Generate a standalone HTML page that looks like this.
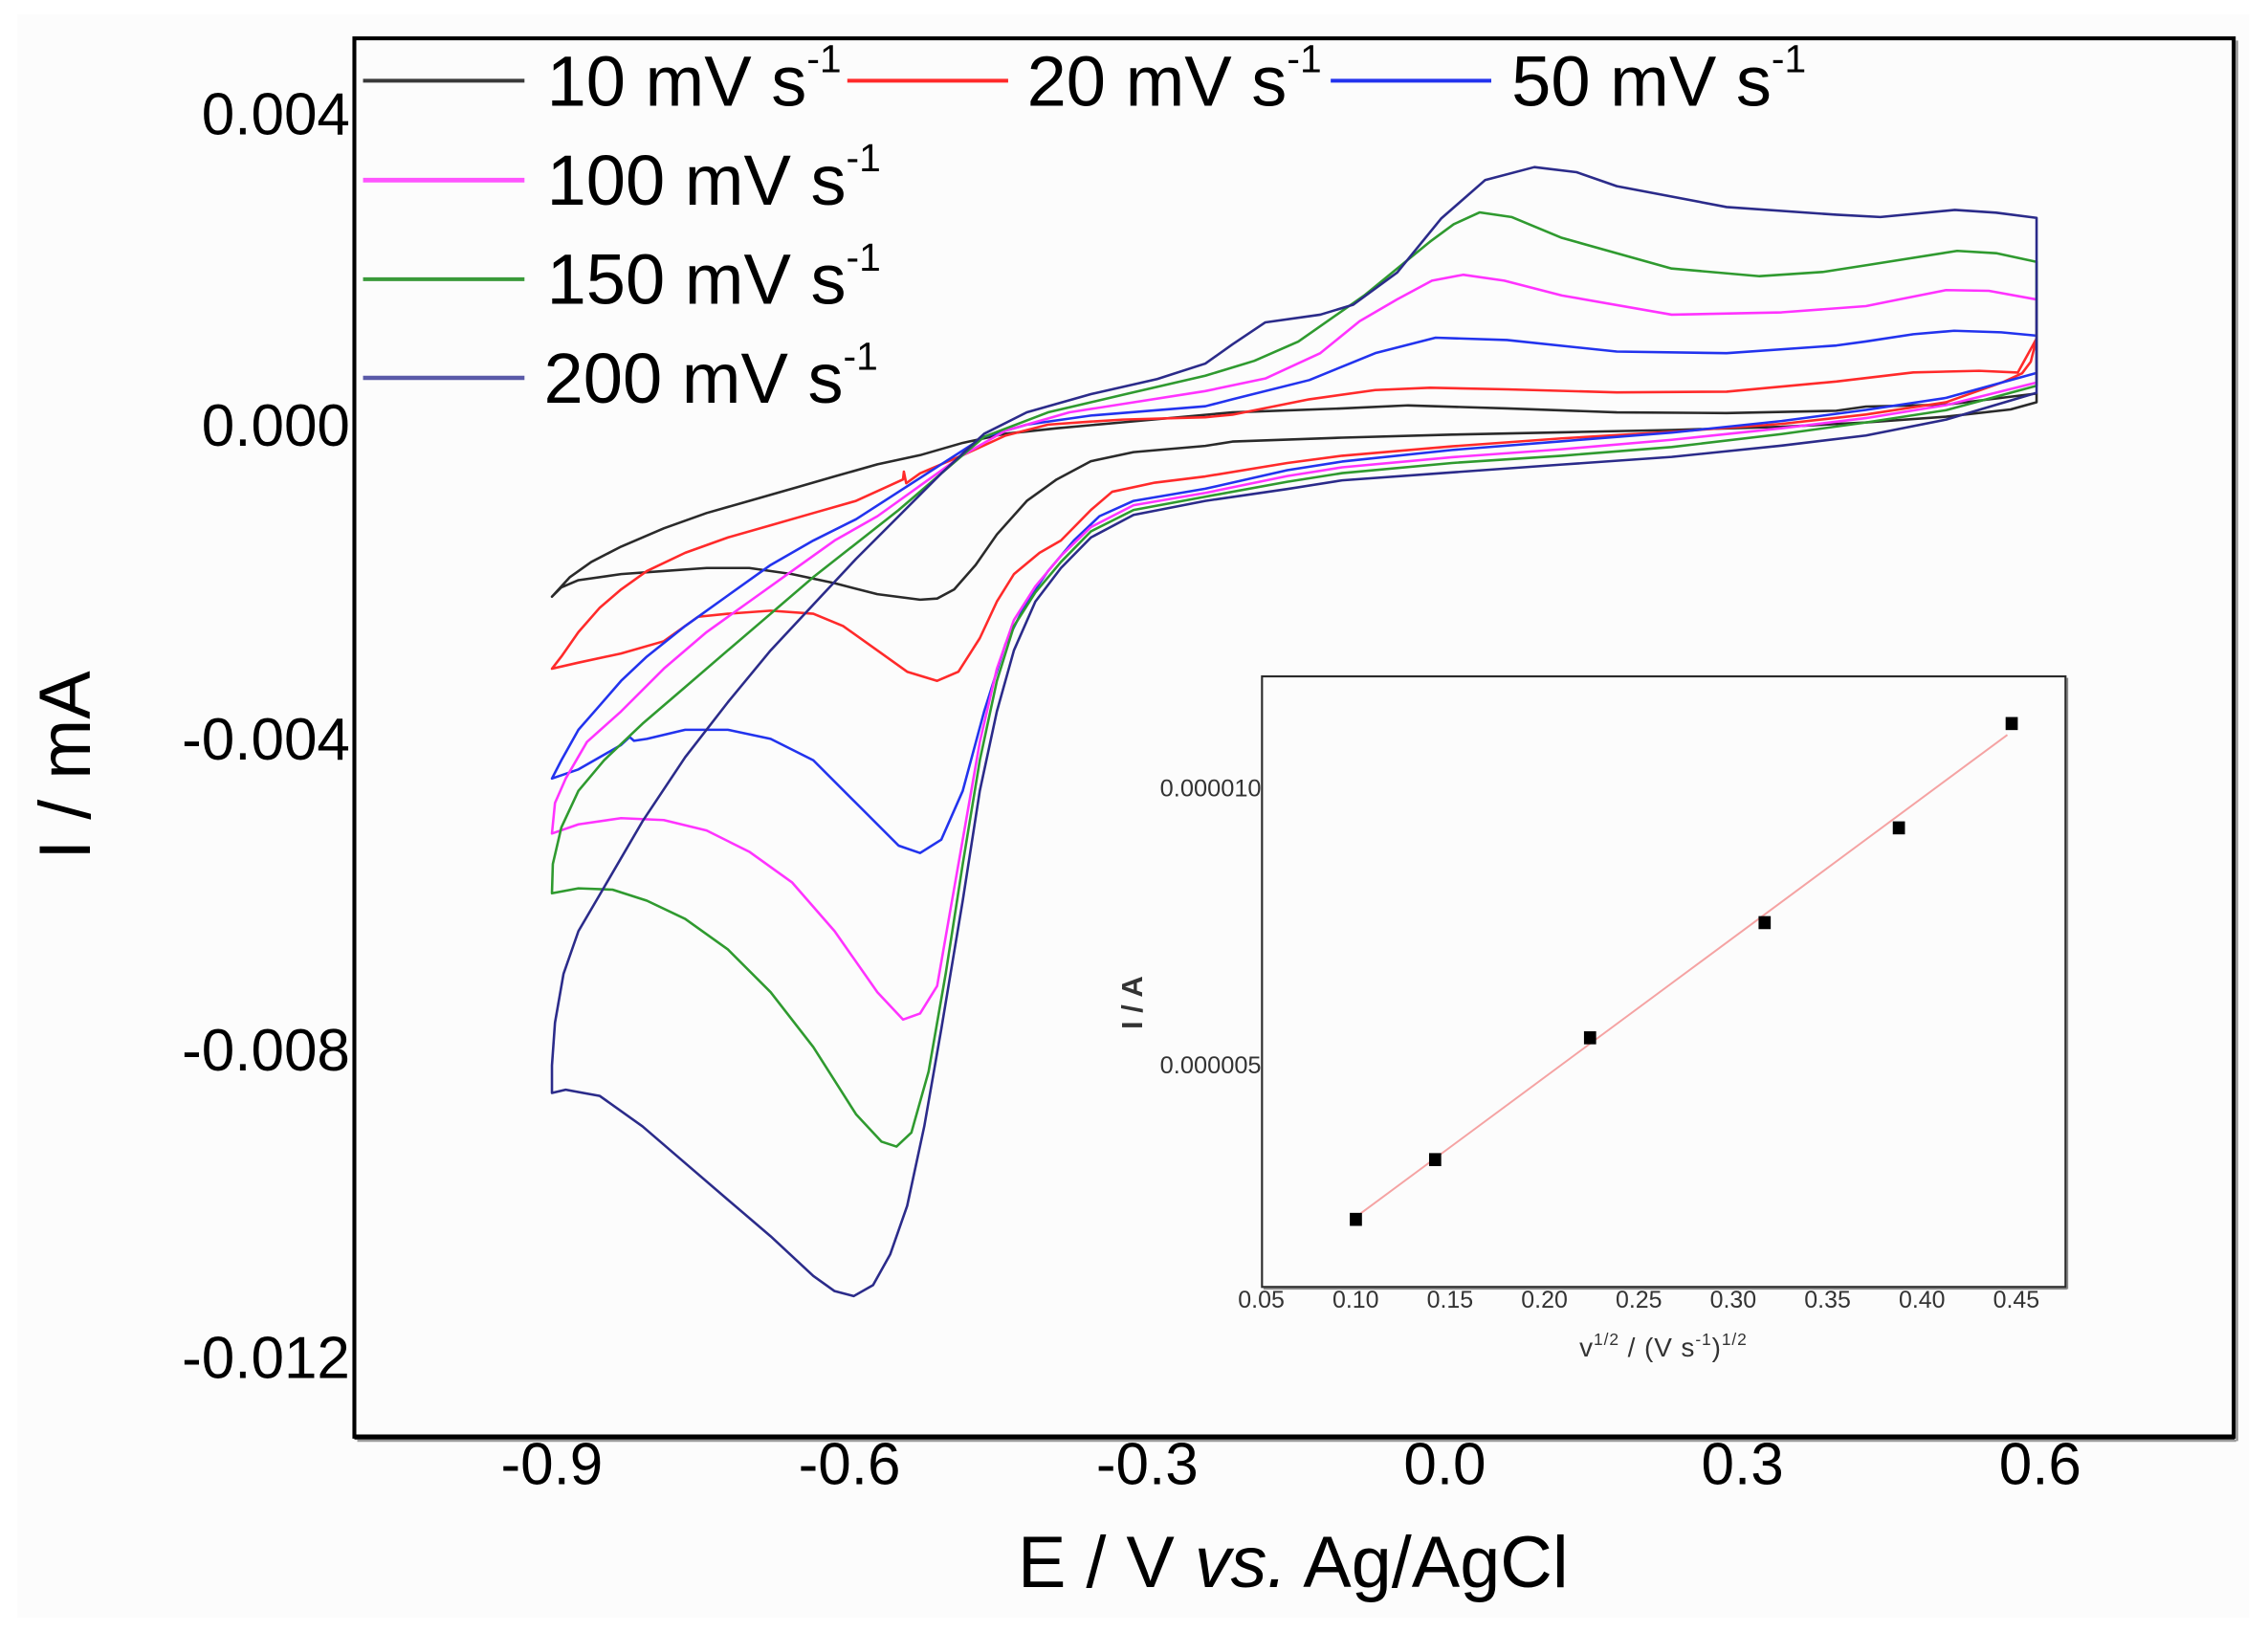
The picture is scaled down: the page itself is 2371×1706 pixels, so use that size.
<!DOCTYPE html>
<html>
<head>
<meta charset="utf-8">
<style>
html,body{margin:0;padding:0;background:#ffffff;}
svg{display:block;}
</style>
</head>
<body>
<svg width="2371" height="1706" viewBox="0 0 1568 1128" preserveAspectRatio="none" xmlns="http://www.w3.org/2000/svg" font-family="'Liberation Sans', Arial, sans-serif">
<rect x="0" y="0" width="1568" height="1128" fill="#ffffff"/>
<rect x="12" y="10" width="1543" height="1108" fill="#fcfcfc"/>

<!-- main frame -->
<line x1="247" y1="995.8" x2="1546" y2="995.8" stroke="#9a9a9a" stroke-width="1.6"/>
<line x1="1546.6" y1="28" x2="1546.6" y2="996" stroke="#9a9a9a" stroke-width="1.6"/>
<rect x="245" y="26.5" width="1299.3" height="966.5" fill="none" stroke="#000" stroke-width="2.7"/>
<line x1="245" y1="993.2" x2="1545" y2="993.2" stroke="#000" stroke-width="3.4"/>

<!-- y tick labels -->
<g font-size="41" fill="#000" text-anchor="end">
<text x="242" y="93">0.004</text>
<text x="242" y="308">0.000</text>
<text x="242" y="525">-0.004</text>
<text x="242" y="740">-0.008</text>
<text x="242" y="952.5">-0.012</text>
</g>
<!-- x tick labels -->
<g font-size="41" fill="#000" text-anchor="middle">
<text x="381.5" y="1026">-0.9</text>
<text x="587.3" y="1026">-0.6</text>
<text x="793.1" y="1026">-0.3</text>
<text x="998.9" y="1026">0.0</text>
<text x="1204.7" y="1026">0.3</text>
<text x="1410.5" y="1026">0.6</text>
</g>

<!-- axis titles -->
<text x="894" y="1097" text-anchor="middle" font-size="50" fill="#000">E / V <tspan font-style="italic">vs.</tspan> Ag/AgCl</text>
<text transform="translate(62,529) rotate(-90)" text-anchor="middle" font-size="50" fill="#000">I / mA</text>

<!-- legend -->
<g stroke-width="2.6">
<line x1="251" y1="55.8" x2="362.6" y2="55.8" stroke="#3a3a3a"/>
<line x1="585.8" y1="55.8" x2="697" y2="55.8" stroke="#ff2a2a"/>
<line x1="920" y1="55.8" x2="1031" y2="55.8" stroke="#2233ee"/>
<line x1="251" y1="124.5" x2="362.6" y2="124.5" stroke="#ff55ff" stroke-width="3.2"/>
<line x1="251" y1="193" x2="362.6" y2="193" stroke="#3a9a3a"/>
<line x1="251" y1="261.2" x2="362.6" y2="261.2" stroke="#5a5aa8" stroke-width="3"/>
</g>
<g font-size="49" fill="#000">
<text x="378" y="73">10 mV s<tspan font-size="27" dy="-23">-1</tspan></text>
<text x="710" y="73">20 mV s<tspan font-size="27" dy="-23">-1</tspan></text>
<text x="1045" y="73">50 mV s<tspan font-size="27" dy="-23">-1</tspan></text>
<text x="378" y="141.5">100 mV s<tspan font-size="27" dy="-23">-1</tspan></text>
<text x="378" y="210">150 mV s<tspan font-size="27" dy="-23">-1</tspan></text>
<text x="376" y="278.5">200 mV s<tspan font-size="27" dy="-23">-1</tspan></text>
</g>

<!-- CV curves -->
<g fill="none" stroke-width="1.7" stroke-linejoin="round" stroke-linecap="round">
<!-- 10 mV/s black -->
<polygon stroke="#2a2a2a" points="381.6,412.4 394.0,398.9 408.8,388.4 429.4,377.8 458.9,365.2 488.5,354.6 518.0,346.2 547.5,337.8 577.0,329.3 606.6,320.9 636.1,314.6 665.6,306.1 695.1,299.8 730.6,296 776.1,291.9 852.1,285.0 927.9,282.3 973.5,280.2 1041.9,282.3 1117.8,285.0 1193.7,285.5 1269.6,283.9 1290,281 1345.5,279.7 1408,272 1408,278 1390,283 1345.5,288 1290,292 1231.7,295 1155.7,297.2 1079.8,298.8 1003.9,300.4 927.9,302.5 852.1,305.2 833.3,308.2 783.7,312.5 754.2,318.8 730.5,331.4 709.9,346.2 689.2,369.4 674.5,390.5 659.7,407.4 647.9,413.7 636.1,414.5 606.6,410.7 577.0,403.1 547.5,396.8 518.0,392.6 488.5,392.6 458.9,394.7 429.4,396.8 399.9,401.0 388,406"/>
<!-- 20 mV/s red -->
<polygon stroke="#ff2a2a" points="381.6,462.2 388.1,453.8 399.9,436.9 414.7,420.0 429.4,407.4 447.2,394.7 473.7,382.1 503.2,371.5 532.8,363.1 562.3,354.6 591.8,346.2 624.3,331.4 624.9,326 626.5,334 636.1,327.2 665.6,314.6 695.1,301.1 724.6,293.5 754.2,291.4 776.1,290 833.3,288.4 852.1,286.6 905.2,276.0 950.8,269.6 988.7,268.0 1041.9,269.1 1117.8,271.2 1193.7,270.7 1269.6,263.7 1322.8,257.4 1368.3,256.3 1395,257.5 1408,234 1404,250 1398,258 1385,264 1345.5,278 1290,286.5 1231.7,293 1155.7,298.5 1079.8,303 1003.9,308.5 927.9,315 890,320 833.3,329.3 798.4,333.6 768.9,339.9 754.2,352.5 733.5,373.6 718.7,382.1 701.0,396.8 689.2,415.8 677.4,441.1 662.6,464.3 647.9,470.6 627.2,464.3 606.6,449.6 582.9,432.7 562.3,424.2 532.8,422.1 503.2,424.2 482.6,426.3 458.9,443.2 429.4,451.7 399.9,458.0"/>
<!-- 50 mV/s blue -->
<polygon stroke="#2233ee" points="381.6,538.1 388.1,525.5 399.9,504.4 414.7,487.5 429.4,470.6 447.2,453.8 473.7,432.7 503.2,411.6 532.8,390.5 562.3,373.6 591.8,358.9 621.3,339.9 650.8,320.9 680.4,301.9 709.9,293.5 754.2,287.2 833.3,280.8 852.1,276.0 905.2,262.7 950.8,244.1 992.5,233.4 1041.9,235.0 1117.8,243.0 1193.7,244.1 1269.6,238.8 1290,236 1322.8,231 1351,228.6 1383.5,229.7 1408,232 1408,257.8 1345.5,275 1290,283.3 1231.7,291 1155.7,299 1079.8,305 1003.9,311 927.9,319 890,325 833.3,337.8 783.7,346.2 760.1,356.8 742.4,373.6 724.6,394.7 709.9,415.8 695.1,445.3 680.4,491.7 665.6,546.6 650.8,580.3 636.1,589.6 621.3,584.5 591.8,555.0 562.3,525.5 532.8,510.7 503.2,504.4 473.7,504.4 447.2,510.7 438.3,512.0 435.3,509.4 429.4,514.9 399.9,531.8"/>
<!-- 100 mV/s magenta -->
<polygon stroke="#ff33ff" points="381.6,576.1 383.7,555.0 391.1,538.1 405.8,512.8 429.4,491.7 458.9,462.2 488.5,436.9 518.0,415.8 547.5,394.7 577.0,373.6 606.6,356.8 636.1,335.7 665.6,314.6 695.1,297.7 739.4,285.0 833.3,270.3 874.8,261.6 912.8,244.1 940,222 966.0,206.9 990,194 1011.5,189.9 1040,194 1079.8,204.2 1155.7,217.5 1231.7,215.9 1290,211.6 1307.6,208 1345.5,200.5 1375,201 1408,207 1408,264.4 1345.5,280 1290,289 1231.7,296 1155.7,304 1079.8,310.5 1003.9,316 927.9,323 890,329 833.3,340.7 783.7,349.2 754.2,364.3 733.5,384.2 715.8,405.3 701.0,428.5 689.2,462.2 677.4,512.8 665.6,580.3 656.7,630.9 647.9,681.5 636.1,700.5 624.3,704.7 606.6,685.8 577.0,643.6 547.5,609.8 518.0,588.7 488.5,574.0 458.9,566.8 429.4,565.5 399.9,569.8"/>
<!-- 150 mV/s green -->
<polygon stroke="#2f9a2f" points="381.6,617.4 382.2,597.2 388.1,571.9 399.9,546.6 417.6,525.5 444.2,500.2 473.7,474.9 503.2,449.5 532.8,424.2 562.3,398.9 591.8,375.7 621.3,352.5 650.8,327.2 680.4,301.9 724.6,285.0 780,272 833.3,259.7 867.2,249.4 897.6,236.1 943.2,204.2 988.7,167.0 1005,155 1022.9,146.8 1045,150 1079.8,164.4 1155.7,185.6 1216.5,190.9 1260,188 1292.4,183.0 1353.1,173.4 1380,175 1408,181 1408,266.6 1345.5,283.5 1290,292 1231.7,300 1155.7,309 1079.8,315 1003.9,320 927.9,327 890,333 833.3,343.3 783.7,352.5 754.2,367.3 733.5,388.4 715.8,409.5 701.0,432.7 689.2,470.6 677.4,525.5 665.6,597.2 653.8,673.1 642.0,740.6 630.1,782.8 619.8,792.5 609.5,789.1 591.8,770.1 562.3,723.7 532.8,685.8 503.2,656.2 473.7,635.1 447.2,622.5 423.5,614.9 399.9,614.0"/>
<!-- 200 mV/s navy -->
<polygon stroke="#2b2b8a" points="381.6,755.4 381.6,736.4 383.7,706.8 389.6,673.1 399.9,643.6 414.7,618.3 444.2,567.7 473.7,523.4 503.2,485.4 532.8,449.5 562.3,417.9 591.8,386.3 621.3,356.8 650.8,327.2 680.4,299.8 709.9,285.0 754.2,272.4 800,262 833.3,251.3 852.1,238 874.8,222.8 912.8,217.5 935.6,210.6 966.0,188.3 996.3,151.1 1026.7,124.5 1060.8,115.5 1090,119 1117.8,128.7 1193.7,143.1 1269.6,148.4 1300,150 1351.5,145.1 1380,147 1408,150.6 1408,271.5 1345.5,290 1290,301 1231.7,308 1155.7,315.8 1079.8,321.1 1003.9,326.5 927.9,332 890,338 833.3,346.2 783.7,355.9 754.2,371.5 733.5,392.6 715.8,415.8 701.0,449.5 689.2,491.7 677.4,546.6 665.6,622.5 650.8,711.1 639.0,778.5 627.2,833.4 615.4,867.1 603.6,888.2 590.3,895.8 577.0,892.4 562.3,881.9 532.8,854.5 503.2,829.2 473.7,803.9 444.2,778.5 414.7,757.5 391.1,753.2"/>
</g>

<!-- inset -->
<line x1="873.5" y1="890.8" x2="1429" y2="890.8" stroke="#8a8a8a" stroke-width="1.2"/>
<line x1="1429.3" y1="468.5" x2="1429.3" y2="891" stroke="#8a8a8a" stroke-width="1.2"/>
<rect x="872.5" y="467.5" width="555.5" height="422" fill="none" stroke="#2a2a2a" stroke-width="1.4"/>
<line x1="940.7" y1="838.7" x2="1387.8" y2="507.9" stroke="#f5a3a3" stroke-width="1.3"/>
<g fill="#000">
<rect x="933.2" y="838.3" width="8.4" height="9"/>
<rect x="988" y="797" width="8.4" height="9"/>
<rect x="1095.1" y="712.8" width="8.4" height="9"/>
<rect x="1215.8" y="633.2" width="8.4" height="9"/>
<rect x="1308.6" y="567.7" width="8.4" height="9"/>
<rect x="1386.6" y="495.6" width="8.4" height="9"/>
</g>
<g font-size="16.5" fill="#333" text-anchor="middle">
<text x="872" y="904">0.05</text>
<text x="937.25" y="904">0.10</text>
<text x="1002.5" y="904">0.15</text>
<text x="1067.75" y="904">0.20</text>
<text x="1133" y="904">0.25</text>
<text x="1198.25" y="904">0.30</text>
<text x="1263.5" y="904">0.35</text>
<text x="1328.75" y="904">0.40</text>
<text x="1394" y="904">0.45</text>
</g>
<g font-size="16.8" fill="#333" text-anchor="end">
<text x="872" y="550.5">0.000010</text>
<text x="872" y="742">0.000005</text>
</g>
<text x="1150" y="937.5" text-anchor="middle" font-size="18.5" fill="#333" letter-spacing="0.6">v<tspan font-size="11.5" dy="-8">1/2</tspan><tspan dy="8"> / (V s</tspan><tspan font-size="11.5" dy="-8">-1</tspan><tspan dy="8">)</tspan><tspan font-size="11.5" dy="-8">1/2</tspan></text>
<text transform="translate(789.5,693) rotate(-90)" text-anchor="middle" font-size="20.5" font-weight="bold" fill="#333">I / A</text>
</svg>
</body>
</html>
